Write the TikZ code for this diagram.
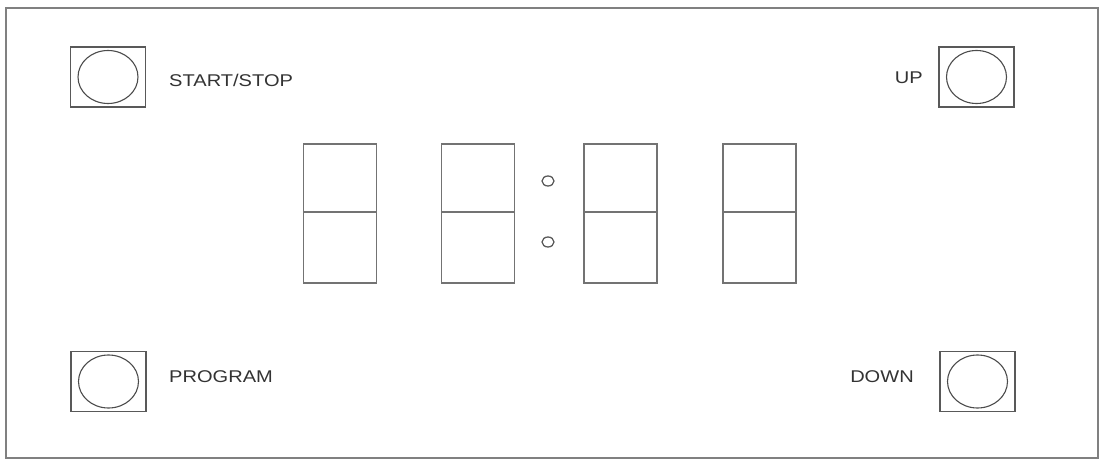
\documentclass[tikz,border=0pt]{standalone}
\usepackage{fontspec}
\setmainfont{Liberation Sans}
\usetikzlibrary{shapes.geometric}
\begin{document}
\begin{tikzpicture}[x=1pt,y=-1pt,
  frame/.style={draw=black!50,line width=2pt},
  btnbox/.style={draw=black!65,line width=1.1pt,minimum width=75pt,minimum height=60pt,inner sep=0pt,outer sep=0pt},
  btnknob/.style={ellipse,draw=black!70,line width=1.1pt,minimum width=60pt,minimum height=53pt,inner sep=0pt},
  digit/.style={draw=black!55,line width=1.5pt,minimum width=73pt,minimum height=139pt,inner sep=0pt},
  dot/.style={ellipse,draw=black!65,line width=1.3pt,minimum width=12pt,minimum height=10pt,inner sep=0pt},
  lbl/.style={font=\fontsize{17}{20}\selectfont,text=black!80,inner sep=0pt,xscale=1.18}]
\useasboundingbox (0,0) rectangle (1101,460);
\node[frame,minimum width=1092pt,minimum height=449pt,inner sep=0pt] (panel) at (552,233) {};
% buttons
\node[btnbox] (bss) at (108,77) {};
\node[btnknob] (kss) at (bss.center) {};
\node[lbl,anchor=west] (tss) at (169,80) {START/STOP};
\node[btnbox] (bup) at (976.5,77) {};
\node[btnknob] (kup) at (bup.center) {};
\node[lbl,anchor=east] (tup) at (923,78) {UP};
\node[btnbox] (bpr) at (108.5,381.5) {};
\node[btnknob] (kpr) at (bpr.center) {};
\node[lbl,anchor=west] (tpr) at (169,377) {PROGRAM};
\node[btnbox] (bdn) at (977.5,381.5) {};
\node[btnknob] (kdn) at (bdn.center) {};
\node[lbl,anchor=east] (tdn) at (914,377) {DOWN};
% digits
\foreach \n/\cx in {1/340,2/478,3/620.5,4/759.5}{
  \node[digit] (d\n) at (\cx,213.5) {};
  \draw[draw=black!55,line width=1.5pt] ([yshift=1.5pt]d\n.west) -- ([yshift=1.5pt]d\n.east);
}
\node[dot] (c1) at (548,181) {};
\node[dot] (c2) at (548,242) {};
\end{tikzpicture}
\end{document}
